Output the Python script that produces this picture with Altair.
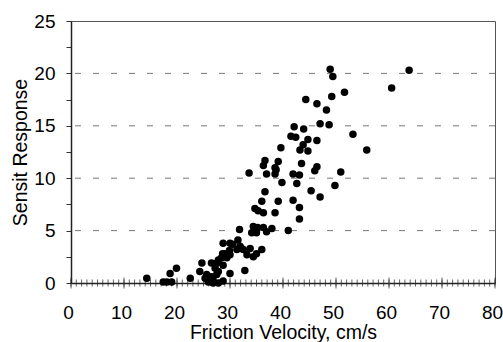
import altair as alt
import pandas as pd

# Friction velocity (cm/s) and Sensit response
velocity_high = [63.8, 60.5, 48.9, 49.4, 51.6, 49.2, 44.3, 46.4, 48.2, 47.0, 48.7, 42.1,
                 43.9, 53.2, 41.5, 42.4, 44.7, 46.4, 39.6, 43.8, 43.2, 44.7, 55.8]
response_high = [20.3, 18.6, 20.4, 19.7, 18.2, 17.8, 17.5, 17.1, 16.5, 15.2, 15.1, 14.9,
                 14.7, 14.2, 14.0, 13.9, 13.7, 13.6, 12.9, 13.2, 12.7, 12.6, 12.7]

velocity_mid = [36.3, 39.1, 43.5, 46.4, 38.5, 36.6, 46.0, 38.7, 36.9, 38.5, 41.9, 43.1,
                50.9, 33.6, 39.8, 42.6, 49.8, 45.3, 36.6, 47.0, 39.1, 41.9, 36.0, 43.1]
response_mid = [11.2, 11.6, 11.4, 11.1, 11.0, 11.7, 10.7, 10.8, 10.4, 10.4, 10.4, 10.3,
                10.6, 10.5, 9.6, 9.5, 9.3, 8.8, 8.7, 8.2, 7.8, 7.9, 7.8, 7.2]

velocity_lowmid = [34.7, 35.3, 36.3, 38.5, 43.1, 34.4, 35.2, 36.3, 37.9, 41.0, 34.1, 35.0,
                   36.9, 31.8, 31.5, 36.0]
response_lowmid = [7.1, 6.9, 6.7, 6.7, 6.1, 5.4, 5.3, 5.3, 5.2, 5.0, 4.8, 4.8,
                   4.9, 5.1, 4.1, 3.2]

velocity_low = [14.3, 17.4, 18.1, 19.0, 18.7, 19.9, 22.5, 24.3, 24.7, 26.5, 25.6, 26.5,
                27.5, 25.3, 26.2, 26.8, 25.9, 26.8, 27.8, 28.7, 27.2, 27.8, 30.0, 32.8]
response_low = [0.45, 0.1, 0.1, 0.1, 0.9, 1.4, 0.45, 1.1, 1.9, 1.9, 0.8, 0.6,
                0.8, 0.45, 0.45, 0.3, 0.1, 0.0, 0.0, 0.2, 1.4, 1.1, 0.9, 1.2]

velocity_rise = [27.5, 28.7, 27.8, 28.4, 29.4, 29.1, 30.0, 28.6, 29.9, 31.3, 32.2, 31.9,
                 32.5, 33.2, 34.4, 33.8, 35.0, 28.7, 30.0, 30.5]
response_rise = [1.9, 1.7, 2.2, 2.4, 2.4, 2.8, 2.7, 2.8, 3.1, 3.2, 3.3, 3.5,
                 3.2, 2.7, 2.5, 3.3, 2.8, 3.8, 3.8, 3.7]

x_labels = [0, 10, 20, 30, 40, 50, 60, 70, 80]
x_minor = list(range(0, 81))
y_ticks = [0, 2.5, 5, 7.5, 10, 12.5, 15, 17.5, 20, 22.5, 25]
y_grid = [5, 10, 15, 20]

velocity = velocity_high + velocity_mid + velocity_lowmid + velocity_low + velocity_rise
response = response_high + response_mid + response_lowmid + response_low + response_rise

df = pd.DataFrame({"v": velocity, "s": response})
minor_df = pd.DataFrame({"v": x_minor})
major_df = pd.DataFrame({"v": x_labels})
grid_df = pd.DataFrame({"s": y_grid})

FONT = "Liberation Sans"
xs = alt.Scale(domain=[0, 80], nice=False, zero=False)
ys = alt.Scale(domain=[0, 25], nice=False, zero=False)

xa = alt.Axis(
    values=x_labels, title="Friction Velocity, cm/s", grid=False, tickSize=0,
    labelFlush=False, labelOffset=-3,
    labelPadding=20, labelFontSize=19, titleFontSize=19.5, titleFontWeight="normal",
    titleY=55, titleBaseline="alphabetic", domainColor="#222", domainWidth=1.5,
    labelColor="black", titleColor="black", labelFont=FONT, titleFont=FONT)
ya = alt.Axis(
    values=y_ticks, title="Sensit Response", grid=False, tickSize=5, tickColor="#333",
    labelExpr="datum.value % 5 == 0 ? datum.label : ''",
    labelPadding=11, labelFontSize=19, titleFontSize=19.5, titleFontWeight="normal",
    titleX=-45, titleY=131, titleAlign="center", titleBaseline="alphabetic",
    domainColor="#222", domainWidth=1.5, labelColor="black", titleColor="black",
    labelFont=FONT, titleFont=FONT)

grid = alt.Chart(grid_df).mark_rule(color="#777", strokeWidth=1, strokeDash=[6, 12]).encode(
    y=alt.Y("s:Q", scale=ys, axis=ya)
)

minor_ticks = alt.Chart(minor_df).mark_tick(orient="vertical", color="#222", thickness=1, size=7).encode(
    x=alt.X("v:Q", scale=xs, axis=xa),
    y=alt.Y("z:Q", scale=ys, axis=ya),
).transform_calculate(z="0")
major_ticks = alt.Chart(major_df).mark_tick(orient="vertical", color="#222", thickness=1, size=11).encode(
    x=alt.X("v:Q", scale=xs, axis=xa),
    y=alt.Y("z:Q", scale=ys, axis=ya),
).transform_calculate(z="0")

points = alt.Chart(df).mark_circle(color="black", opacity=1, size=56).encode(
    x=alt.X("v:Q", scale=xs, axis=xa),
    y=alt.Y("s:Q", scale=ys, axis=ya),
)

chart = alt.layer(grid, minor_ticks, major_ticks, points).properties(
    width=424, height=262,
    autosize=alt.AutoSizeParams(type="none"),
    padding={"left": 71, "top": 21, "right": 8, "bottom": 59},
    background="white",
).configure_view(stroke="#555", strokeWidth=1)

chart.save("out.html", embed_options={"renderer": "svg", "actions": False})
